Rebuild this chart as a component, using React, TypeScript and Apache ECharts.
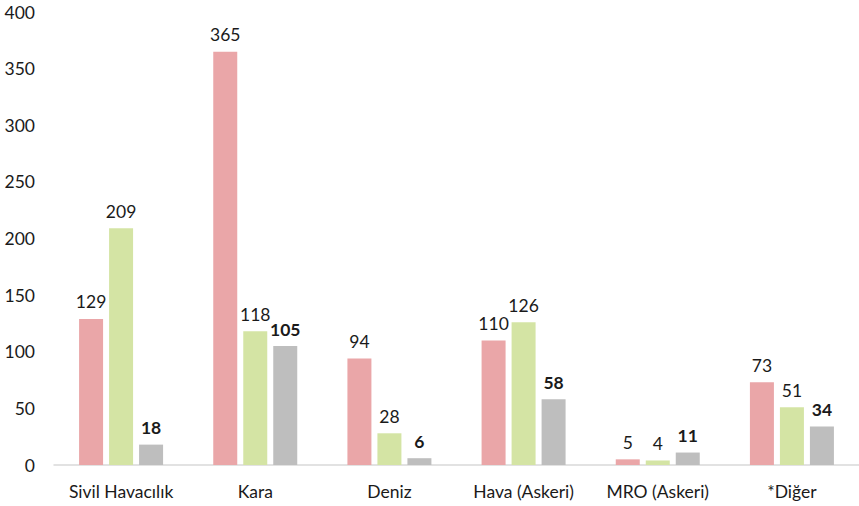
import React, { useEffect, useRef } from "react";
import * as echarts from "echarts";

const categories = ["Sivil Havacılık", "Kara", "Deniz", "Hava (Askeri)", "MRO (Askeri)", "*Diğer"];
const seriesA = [129, 365, 94, 110, 5, 73];
const seriesB = [209, 118, 28, 126, 4, 51];
const seriesC = [18, 105, 6, 58, 11, 34];
const yTicks = { min: 0, max: 400, interval: 50 };

const FONT = "Lato";
const FS = 17.5;

export default function App() {
  const ref = useRef<HTMLDivElement>(null);
  useEffect(() => {
    if (!ref.current) return;
    const chart = echarts.init(ref.current, undefined, { renderer: "svg" });
    const label = (bold: boolean) => ({
      show: true,
      position: "top" as const,
      distance: 8,
      color: "#1a1a1a",
      fontFamily: FONT,
      fontSize: FS,
      fontWeight: bold ? ("bold" as const) : ("normal" as const),
    });
    chart.setOption({
      animation: false,
      backgroundColor: "#ffffff",
      grid: { left: 54, right: -1, top: 12, bottom: 41 },
      xAxis: {
        type: "category",
        data: categories,
        axisLine: { show: true, lineStyle: { color: "#D9D9D9", width: 1.5 } },
        axisTick: { show: false },
        axisLabel: { interval: 0, hideOverlap: false, color: "#1a1a1a", fontFamily: FONT, fontSize: FS, margin: 17 },
      },
      yAxis: {
        type: "value",
        min: yTicks.min,
        max: yTicks.max,
        interval: yTicks.interval,
        axisLine: { show: false },
        axisTick: { show: false },
        splitLine: { show: false },
        axisLabel: { color: "#1a1a1a", fontFamily: FONT, fontSize: FS, margin: 19 },
      },
      series: [
        { type: "bar", data: seriesA, barWidth: 24, barGap: "25%", itemStyle: { color: "#EAA6A8" }, label: label(false) },
        { type: "bar", data: seriesB, barWidth: 24, barGap: "25%", itemStyle: { color: "#D4E4A4" }, label: label(false) },
        { type: "bar", data: seriesC, barWidth: 24, barGap: "25%", itemStyle: { color: "#BEBEBE" }, label: label(true) },
      ],
    });
    return () => chart.dispose();
  }, []);
  return <div ref={ref} style={{ position: "fixed", left: 0, top: 0, width: 859, height: 506 }} />;
}
